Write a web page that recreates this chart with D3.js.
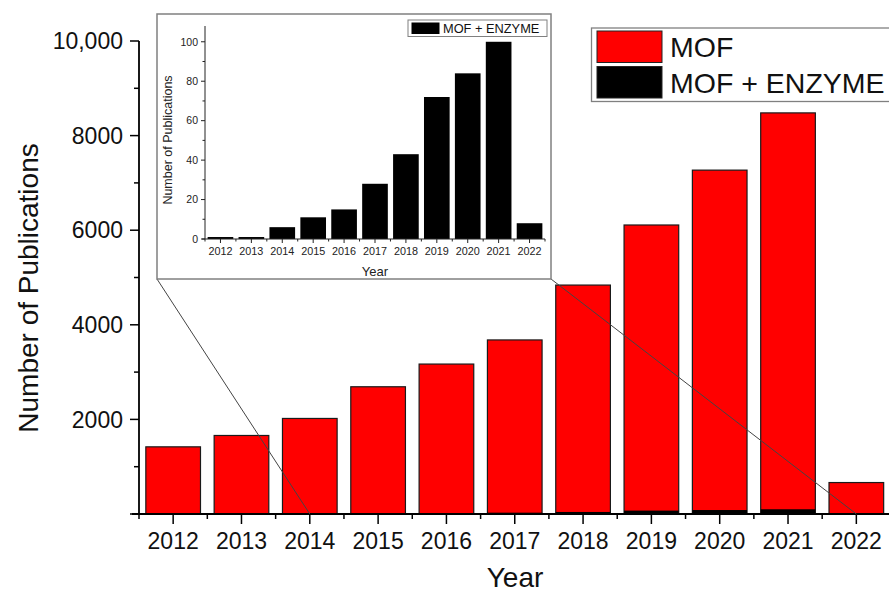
<!DOCTYPE html>
<html>
<head>
<meta charset="utf-8">
<script src="https://cdn.jsdelivr.net/npm/d3@7"></script>
<style>
  html, body { margin: 0; padding: 0; background: #fff; }
  svg { display: block; font-family: "Liberation Sans", Arial, sans-serif; }
</style>
</head>
<body>
<svg id="chart" width="889" height="594"></svg>
<script>
// Publications per year
const years = ["2012", "2013", "2014", "2015", "2016", "2017", "2018", "2019", "2020", "2021", "2022"];
const mofCounts = [1420, 1660, 2020, 2690, 3170, 3680, 4840, 6110, 7270, 8480, 665];
const mofEnzymeCounts = [1, 1, 6, 11, 15, 28, 43, 72, 84, 100, 8];
const mainYTicks = [0, 2000, 4000, 6000, 8000, 10000];
const insetYTicks = [0, 20, 40, 60, 80, 100];

const svg = d3.select("#chart");

// ---------- main chart ----------
const x = d3.scaleBand().domain(years).range([139, 890.5]).paddingInner(0.2).paddingOuter(0.1);
const y = d3.scaleLinear().domain([0, 10000]).range([514, 41]);
const step = x.step();

const main = svg.append("g");

main.selectAll("rect.mof").data(years).join("rect")
  .attr("class", "mof")
  .attr("x", d => x(d))
  .attr("width", x.bandwidth())
  .attr("y", (d, i) => y(mofCounts[i]))
  .attr("height", (d, i) => y(0) - y(mofCounts[i]))
  .attr("fill", "#ff0000")
  .attr("stroke", "#1a1a1a")
  .attr("stroke-width", 1.2);

main.selectAll("rect.enz").data(years).join("rect")
  .attr("class", "enz")
  .attr("x", d => x(d))
  .attr("width", x.bandwidth())
  .attr("y", (d, i) => y(mofEnzymeCounts[i]))
  .attr("height", (d, i) => y(0) - y(mofEnzymeCounts[i]))
  .attr("fill", "#000");

// y axis: major ticks with labels, minor ticks in between
const yAxis = main.append("g").attr("transform", "translate(139,0)");
yAxis.append("line").attr("y1", y(0)).attr("y2", y(10000)).attr("stroke", "#000").attr("stroke-width", 1.8);
yAxis.selectAll("line.minor").data(d3.range(1000, 10000, 2000)).join("line")
  .attr("class", "minor").attr("x1", 0).attr("x2", -5)
  .attr("y1", d => y(d)).attr("y2", d => y(d)).attr("stroke", "#000").attr("stroke-width", 1.5);
yAxis.selectAll("line.major").data(mainYTicks).join("line")
  .attr("class", "major").attr("x1", 0).attr("x2", -9)
  .attr("y1", d => y(d)).attr("y2", d => y(d)).attr("stroke", "#000").attr("stroke-width", 1.5);
yAxis.selectAll("text").data(mainYTicks.filter(d => d > 0)).join("text")
  .attr("x", -16).attr("y", d => y(d)).attr("dy", "0.36em")
  .attr("text-anchor", "end").attr("font-size", 23).attr("fill", "#111")
  .text(d => d === 10000 ? "10,000" : String(d));

// x axis: major ticks at bar centres, minor ticks at category edges
const xAxis = main.append("g").attr("transform", `translate(0,${y(0)})`);
xAxis.append("line").attr("x1", 132).attr("x2", 890).attr("stroke", "#000").attr("stroke-width", 1.8);
xAxis.selectAll("line.minor").data(d3.range(years.length + 1)).join("line")
  .attr("class", "minor")
  .attr("x1", i => 139 + i * step).attr("x2", i => 139 + i * step)
  .attr("y1", 0).attr("y2", 5).attr("stroke", "#000").attr("stroke-width", 1.5);
xAxis.selectAll("line.major").data(years).join("line")
  .attr("class", "major")
  .attr("x1", d => x(d) + x.bandwidth() / 2).attr("x2", d => x(d) + x.bandwidth() / 2)
  .attr("y1", 0).attr("y2", 10).attr("stroke", "#000").attr("stroke-width", 1.5);
xAxis.selectAll("text").data(years).join("text")
  .attr("x", d => x(d) + x.bandwidth() / 2).attr("y", 35)
  .attr("text-anchor", "middle").attr("font-size", 23).attr("fill", "#111")
  .text(d => d);

main.append("text")
  .attr("transform", "translate(38,288) rotate(-90)")
  .attr("text-anchor", "middle").attr("font-size", 28).attr("fill", "#111")
  .text("Number of Publications");
main.append("text")
  .attr("x", 515).attr("y", 587)
  .attr("text-anchor", "middle").attr("font-size", 28).attr("fill", "#111")
  .text("Year");

// ---------- inset panel ----------
const box = { x0: 157, y0: 14, x1: 551, y1: 279 };

// guide lines from the panel corners down to the axis
const guides = [
  { from: [box.x0, box.y1], to: "2014" },
  { from: [box.x1, box.y1], to: "2022" }
];
svg.selectAll("line.guide").data(guides).join("line")
  .attr("class", "guide")
  .attr("x1", d => d.from[0]).attr("y1", d => d.from[1])
  .attr("x2", d => x(d.to) + x.bandwidth() / 2).attr("y2", y(0))
  .attr("stroke", "#444").attr("stroke-width", 1);

const inset = svg.append("g");
inset.append("rect")
  .attr("x", box.x0).attr("y", box.y0)
  .attr("width", box.x1 - box.x0).attr("height", box.y1 - box.y0)
  .attr("fill", "#fff").attr("stroke", "#808080").attr("stroke-width", 1.5);

const xi = d3.scaleBand().domain(years).range([205, 545]).paddingInner(0.17).paddingOuter(0.085);
const yi = d3.scaleLinear().domain([0, 108]).range([239, 26]);
const stepI = xi.step();

inset.selectAll("rect.bar").data(years).join("rect")
  .attr("class", "bar")
  .attr("x", d => xi(d))
  .attr("width", xi.bandwidth())
  .attr("y", (d, i) => yi(mofEnzymeCounts[i]))
  .attr("height", (d, i) => yi(0) - yi(mofEnzymeCounts[i]))
  .attr("fill", "#000");

const yAxisI = inset.append("g").attr("transform", "translate(205,0)");
yAxisI.append("line").attr("y1", yi(0)).attr("y2", yi(108)).attr("stroke", "#222").attr("stroke-width", 1);
yAxisI.selectAll("line.minor").data(d3.range(10, 110, 20)).join("line")
  .attr("class", "minor").attr("x1", 0).attr("x2", -2.5)
  .attr("y1", d => yi(d)).attr("y2", d => yi(d)).attr("stroke", "#222").attr("stroke-width", 1);
yAxisI.selectAll("line.major").data(insetYTicks).join("line")
  .attr("class", "major").attr("x1", 0).attr("x2", -4)
  .attr("y1", d => yi(d)).attr("y2", d => yi(d)).attr("stroke", "#222").attr("stroke-width", 1);
yAxisI.selectAll("text").data(insetYTicks).join("text")
  .attr("x", -7).attr("y", d => yi(d)).attr("dy", "0.36em")
  .attr("text-anchor", "end").attr("font-size", 10.5).attr("fill", "#222")
  .text(d => d);

const xAxisI = inset.append("g").attr("transform", `translate(0,${yi(0)})`);
xAxisI.append("line").attr("x1", 202).attr("x2", 545).attr("stroke", "#222").attr("stroke-width", 1);
xAxisI.selectAll("line.minor").data(d3.range(years.length + 1)).join("line")
  .attr("class", "minor")
  .attr("x1", i => 205 + i * stepI).attr("x2", i => 205 + i * stepI)
  .attr("y1", 0).attr("y2", 2.5).attr("stroke", "#222").attr("stroke-width", 1);
xAxisI.selectAll("line.major").data(years).join("line")
  .attr("class", "major")
  .attr("x1", d => xi(d) + xi.bandwidth() / 2).attr("x2", d => xi(d) + xi.bandwidth() / 2)
  .attr("y1", 0).attr("y2", 4).attr("stroke", "#222").attr("stroke-width", 1);
xAxisI.selectAll("text").data(years).join("text")
  .attr("x", d => xi(d) + xi.bandwidth() / 2).attr("y", 16)
  .attr("text-anchor", "middle").attr("font-size", 10.8).attr("fill", "#222")
  .text(d => d);

inset.append("text")
  .attr("transform", "translate(172,140) rotate(-90)")
  .attr("text-anchor", "middle").attr("font-size", 12.5).attr("fill", "#222")
  .text("Number of Publications");
inset.append("text")
  .attr("x", 375).attr("y", 276)
  .attr("text-anchor", "middle").attr("font-size", 13).attr("fill", "#222")
  .text("Year");

// inset legend
const legI = inset.append("g");
legI.append("rect").attr("x", 408).attr("y", 20).attr("width", 139).attr("height", 16.5)
  .attr("fill", "#fff").attr("stroke", "#808080").attr("stroke-width", 1);
legI.append("rect").attr("x", 411.5).attr("y", 22.5).attr("width", 28).attr("height", 11.5).attr("fill", "#000");
legI.append("text").attr("x", 443).attr("y", 28.5).attr("dy", "0.36em")
  .attr("font-size", 12.8).attr("fill", "#111").text("MOF + ENZYME");

// ---------- main legend ----------
const legendItems = [
  { label: "MOF", color: "#ff0000" },
  { label: "MOF + ENZYME", color: "#000000" }
];
const leg = svg.append("g");
leg.append("rect").attr("x", 591.5).attr("y", 28).attr("width", 310).attr("height", 73.5)
  .attr("fill", "#fff").attr("stroke", "#808080").attr("stroke-width", 1.3);
const rows = leg.selectAll("g.row").data(legendItems).join("g")
  .attr("class", "row").attr("transform", (d, i) => `translate(0,${31 + i * 35.5})`);
rows.append("rect").attr("x", 597).attr("y", 0).attr("width", 65).attr("height", 31.5)
  .attr("fill", d => d.color).attr("stroke", "#222").attr("stroke-width", 1);
rows.append("text").attr("x", 670).attr("y", 16).attr("dy", "0.36em")
  .attr("font-size", 28.5).attr("fill", "#111").text(d => d.label);
</script>
</body>
</html>
